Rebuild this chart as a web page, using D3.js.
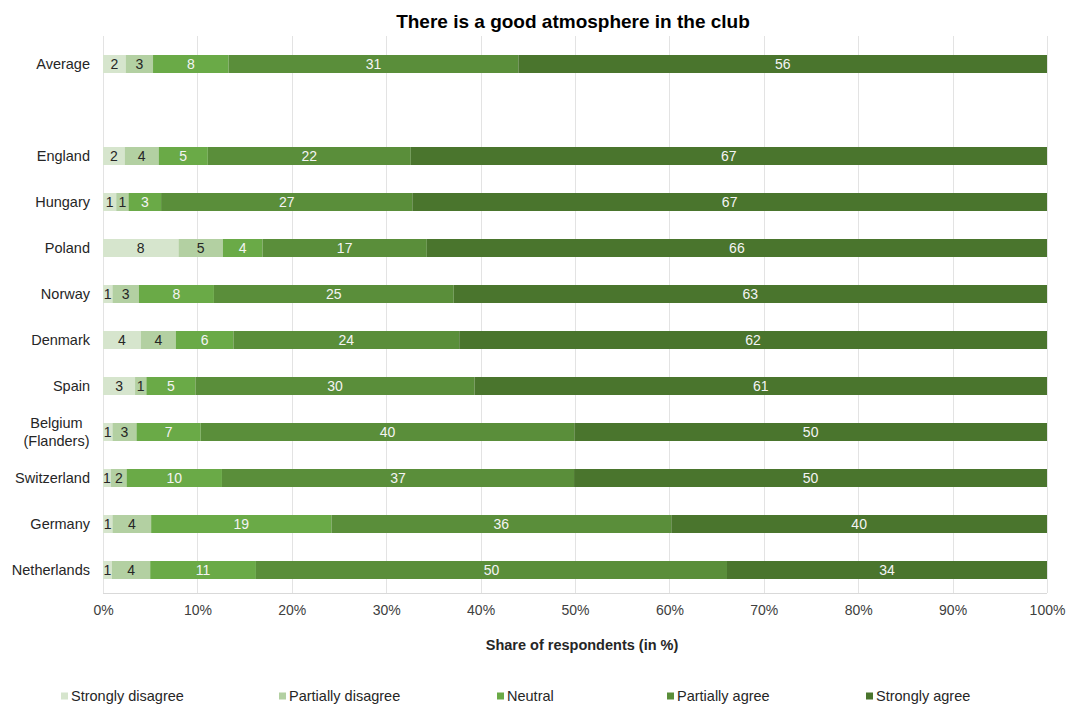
<!DOCTYPE html>
<html>
<head>
<meta charset="utf-8">
<script src="https://cdn.jsdelivr.net/npm/d3@7"></script>
<style>
  html, body { margin: 0; padding: 0; background: #fff; }
  svg { display: block; font-family: "Liberation Sans", Arial, sans-serif; }
</style>
</head>
<body>
<svg id="chart" width="1068" height="706"></svg>
<script>
// ---- data ----
const categories = ["Average", "", "England", "Hungary", "Poland", "Norway", "Denmark", "Spain",
  "Belgium\n(Flanders)", "Switzerland", "Germany", "Netherlands"];
const seriesNames = ["Strongly disagree", "Partially disagree", "Neutral", "Partially agree", "Strongly agree"];
const stronglyDisagree  = [2.4, null, 2.3, 1.4, 8.0, 1.0, 4.0, 3.4, 1.0, 0.85, 1.0, 0.95];
const partiallyDisagree = [2.9, null, 3.6, 1.3, 4.7, 2.8, 3.7, 1.2, 2.55, 1.65, 4.1, 4.05];
const neutral           = [8.0, null, 5.2, 3.45, 4.2, 7.95, 6.1, 5.2, 6.8, 10.1, 19.1, 11.2];
const partiallyAgree    = [30.7, null, 21.5, 26.6, 17.4, 25.4, 23.9, 29.6, 39.6, 37.3, 36.0, 49.9];
const stronglyAgree     = [56.0, null, 67.4, 67.2, 65.7, 62.85, 62.2, 60.7, 50.1, 50.1, 39.8, 33.9];
const tickValues = [0, 10, 20, 30, 40, 50, 60, 70, 80, 90, 100];
const colors = ["#d6e5cd", "#b3d0a2", "#6aaa47", "#5a8e3a", "#4a752d"];
const labelColors = ["#262626", "#262626", "#f4f4f4", "#f4f4f4", "#f4f4f4"];

const seriesArrays = [stronglyDisagree, partiallyDisagree, neutral, partiallyAgree, stronglyAgree];
const keys = ["sd", "pd", "ne", "pa", "sa"];
const rows = categories.map((c, i) => {
  const r = { cat: c, key: "k" + i, empty: stronglyDisagree[i] == null };
  keys.forEach((k, j) => r[k] = seriesArrays[j][i] == null ? 0 : seriesArrays[j][i]);
  return r;
});
const dataRows = rows.filter(r => !r.empty);

const svg = d3.select("#chart");
const plotLeft = 103, plotRight = 1047, plotTop = 41, plotBottom = 593;

const x = d3.scaleLinear().domain([0, 100]).range([plotLeft, plotRight]);
const pad = 1 - 18 / 46;
const y = d3.scaleBand().domain(rows.map(r => r.key)).range([plotTop, plotBottom])
  .paddingInner(pad).paddingOuter(pad / 2);

// gridlines
svg.append("g").selectAll("line").data(tickValues).join("line")
  .attr("x1", d => Math.round(x(d)) + 0.5).attr("x2", d => Math.round(x(d)) + 0.5)
  .attr("y1", 36).attr("y2", plotBottom)
  .attr("stroke", "#e3e3e3").attr("stroke-width", 1);
// bottom axis line
svg.append("line").attr("x1", plotLeft).attr("x2", plotRight).attr("y1", plotBottom + 0.5).attr("y2", plotBottom + 0.5)
  .attr("stroke", "#d9d9d9");

// stack (normalized to 100%)
const stack = d3.stack().keys(keys).offset(d3.stackOffsetExpand);
const stacked = stack(dataRows);

const layers = svg.append("g").selectAll("g").data(stacked).join("g")
  .attr("fill", (d, i) => colors[i]);
layers.selectAll("rect").data(d => d).join("rect")
  .attr("x", d => x(d[0] * 100))
  .attr("width", d => x(d[1] * 100) - x(d[0] * 100))
  .attr("y", d => y(d.data.key))
  .attr("height", y.bandwidth());

// value labels
const lab = svg.append("g").attr("font-size", "14px").attr("text-anchor", "middle");
stacked.forEach((layer, i) => {
  lab.append("g").attr("fill", labelColors[i]).selectAll("text").data(layer).join("text")
    .attr("x", d => (x(d[0] * 100) + x(d[1] * 100)) / 2)
    .attr("y", d => y(d.data.key) + y.bandwidth() / 2)
    .attr("dy", "0.35em")
    .text(d => Math.round(d.data[layer.key]));
});

// category labels
const catG = svg.append("g").attr("font-size", "14.5px").attr("fill", "#262626");
dataRows.forEach(r => {
  const lines = r.cat.split("\n");
  const cy = y(r.key) + y.bandwidth() / 2;
  const lh = 17.5;
  if (lines.length === 1) {
    catG.append("text").attr("x", 90).attr("y", cy).attr("dy", "0.35em")
      .attr("text-anchor", "end").text(lines[0]);
  } else {
    lines.forEach((ln, k) => {
      catG.append("text").attr("x", 56.5).attr("y", cy + (k - (lines.length - 1) / 2) * lh)
        .attr("dy", "0.35em").attr("text-anchor", "middle").text(ln);
    });
  }
});

// x axis
const xAxis = d3.axisBottom(x).tickValues(tickValues).tickFormat(d => d + "%").tickSize(0).tickPadding(0);
const ax = svg.append("g").attr("transform", "translate(0, 610)").call(xAxis);
ax.select(".domain").remove();
ax.selectAll("text").attr("font-size", "14px").attr("fill", "#404040")
  .attr("font-family", "'Liberation Sans', Arial, sans-serif").attr("dy", "0.35em").attr("y", 0);

// title
svg.append("text").attr("x", 573).attr("y", 21).attr("dy", "0.35em").attr("text-anchor", "middle")
  .attr("font-size", "19px").attr("font-weight", "bold").attr("fill", "#000")
  .text("There is a good atmosphere in the club");

// axis title
svg.append("text").attr("x", 582).attr("y", 645).attr("dy", "0.35em").attr("text-anchor", "middle")
  .attr("font-size", "14.5px").attr("font-weight", "bold").attr("fill", "#262626")
  .text("Share of respondents (in %)");

// legend
const legendX = [61, 279, 497, 667, 866];
const lg = svg.append("g").selectAll("g").data(seriesNames).join("g")
  .attr("transform", (d, i) => `translate(${legendX[i]}, 696)`);
lg.append("rect").attr("x", 0).attr("y", -3.5).attr("width", 7).attr("height", 7)
  .attr("fill", (d, i) => colors[i]);
lg.append("text").attr("x", 10).attr("y", 0).attr("dy", "0.35em")
  .attr("font-size", "14.5px").attr("fill", "#262626").text(d => d);
</script>
</body>
</html>
